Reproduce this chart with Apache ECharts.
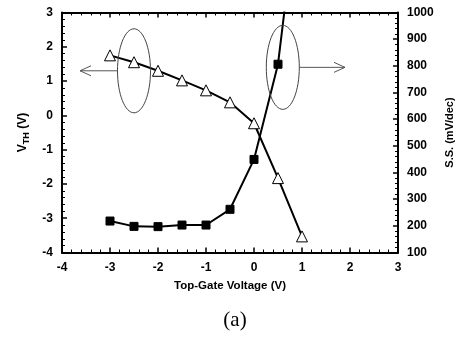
<!DOCTYPE html>
<html><head><meta charset="utf-8">
<script src="https://cdn.jsdelivr.net/npm/echarts@6/dist/echarts.min.js"></script>
<style>html,body{margin:0;padding:0;background:#fff}#c{width:470px;height:345px}</style>
</head><body><div id="c"></div>
<script>
var gateVoltage = [-3, -2.5, -2, -1.5, -1, -0.5, 0, 0.5, 1];
var vth = [1.75, 1.55, 1.3, 1.02, 0.73, 0.38, -0.23, -1.83, -3.53];
var ssVoltage = [-3, -2.5, -2, -1.5, -1, -0.5, 0, 0.5, 1];
var ss = [218, 198, 197, 203, 203, 262, 449, 806, 1550];
var xTicks = [-4, -3, -2, -1, 0, 1, 2, 3];
var vthTicks = [-4, -3, -2, -1, 0, 1, 2, 3];
var ssTicks = [100, 200, 300, 400, 500, 600, 700, 800, 900, 1000];

var chart = echarts.init(document.getElementById('c'), null, {renderer: 'canvas'});
var font = 'Liberation Sans, Arial, sans-serif';
var axisCommon = {
  axisLine: {show: true, onZero: false, lineStyle: {color: '#000', width: 2}},
  axisTick: {show: true, inside: true, length: 5, lineStyle: {color: '#000', width: 1.5}},
  minorTick: {show: true, splitNumber: 5, length: 3, lineStyle: {color: '#000', width: 1}},
  splitLine: {show: false},
  axisLabel: {color: '#000', fontFamily: font, fontWeight: 'bold', fontSize: 12}
};
function ax(o) { return Object.assign({}, JSON.parse(JSON.stringify(axisCommon)), o); }

var option = {
  animation: false,
  backgroundColor: '#fff',
  grid: {left: 62, right: 72, top: 12.5, bottom: 92.5},
  xAxis: [
    ax({type: 'value', min: xTicks[0], max: xTicks[xTicks.length - 1], interval: 1, position: 'bottom',
      name: 'Top-Gate Voltage (V)', nameLocation: 'middle', nameGap: 27,
      nameTextStyle: {color: '#000', fontFamily: font, fontWeight: 'bold', fontSize: 11.5},
      axisLabel: {color: '#000', fontFamily: font, fontWeight: 'bold', fontSize: 12, margin: 9}}),
    ax({type: 'value', min: xTicks[0], max: xTicks[xTicks.length - 1], interval: 1, position: 'top',
      axisLabel: {show: false}})
  ],
  yAxis: [
    ax({type: 'value', min: vthTicks[0], max: vthTicks[vthTicks.length - 1], interval: 1, position: 'left',
      name: 'V{sub|TH} (V)', nameLocation: 'middle', nameGap: 31, nameRotate: 90,
      nameTextStyle: {color: '#000', fontFamily: font, fontWeight: 'bold', fontSize: 12,
        rich: {sub: {fontFamily: font, fontWeight: 'bold', fontSize: 9, padding: [7, 0, 0, 0], color: '#000'}}},
      axisLabel: {color: '#000', fontFamily: font, fontWeight: 'bold', fontSize: 12, margin: 9}}),
    ax({type: 'value', min: ssTicks[0], max: ssTicks[ssTicks.length - 1], interval: 100, position: 'right',
      name: 'S.S. (mV/dec)', nameLocation: 'middle', nameGap: 44, nameRotate: 90,
      nameTextStyle: {color: '#000', fontFamily: font, fontWeight: 'bold', fontSize: 11},
      axisLabel: {color: '#000', fontFamily: font, fontWeight: 'bold', fontSize: 12, margin: 9,
        formatter: function (v) { return String(v); }}})
  ],
  series: [
    {type: 'line', xAxisIndex: 0, yAxisIndex: 0, data: gateVoltage.map(function (x, i) { return [x, vth[i]]; }),
      symbol: 'triangle', symbolSize: 11, showAllSymbol: true,
      lineStyle: {color: '#000', width: 2}, itemStyle: {color: '#fff', borderColor: '#000', borderWidth: 1}, z: 3},
    {type: 'line', xAxisIndex: 0, yAxisIndex: 1, data: ssVoltage.map(function (x, i) { return [x, ss[i]]; }),
      symbol: 'rect', symbolSize: 8, clip: true,
      lineStyle: {color: '#000', width: 2}, itemStyle: {color: '#000', borderColor: '#000'}, z: 2}
  ]
};
chart.setOption(option);

var L = chart.convertToPixel({xAxisIndex: 0, yAxisIndex: 0}, [-2.5, 1.3]);
var R = chart.convertToPixel({xAxisIndex: 0, yAxisIndex: 0}, [0.6, 1.4]);
var rx = 16.5, ry = 42;
function arrow(x1, x2, y, dir) {
  return [
    {type: 'line', shape: {x1: x1, y1: y, x2: x2, y2: y}, style: {stroke: '#555', lineWidth: 1}},
    {type: 'polyline', shape: {points: [[x2 - dir * 11, y - 5], [x2, y], [x2 - dir * 11, y + 5]]}, style: {stroke: '#555', lineWidth: 1, fill: null}}
  ];
}
var g = [
  {type: 'ellipse', shape: {cx: L[0], cy: L[1], rx: rx, ry: ry}, style: {stroke: '#444', lineWidth: 1, fill: null}, z: 10},
  {type: 'ellipse', shape: {cx: R[0], cy: R[1], rx: rx, ry: ry}, style: {stroke: '#444', lineWidth: 1, fill: null}, z: 10},
  {type: 'text', left: 'center', top: 310, style: {text: '(a)', font: '21px "Liberation Serif", "Times New Roman", serif', fill: '#000'}}
];
g = g.concat(arrow(L[0] - rx, 80, L[1], -1)).concat(arrow(R[0] + rx, 345, R[1], 1));
chart.setOption({graphic: g});
</script></body></html>
